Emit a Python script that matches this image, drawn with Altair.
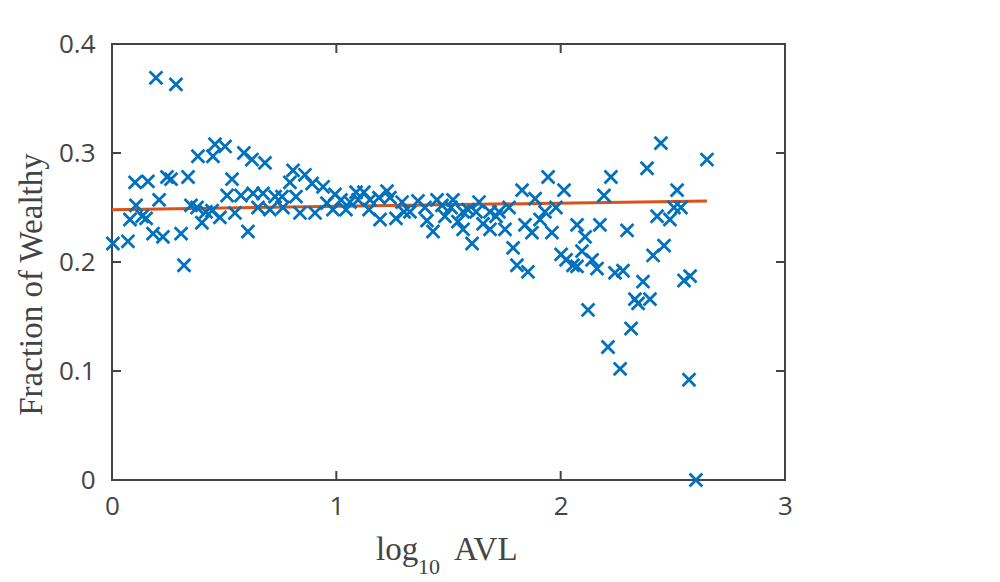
import altair as alt
import pandas as pd

# log10 of AVL for each group
log_avl = [
    0.004, 0.071, 0.196, 0.285, 0.103, 0.160, 0.107, 0.080, 0.134, 0.152,
    0.210, 0.183, 0.227, 0.245, 0.263, 0.339, 0.308, 0.321, 0.383, 0.352,
    0.379, 0.401, 0.419, 0.446, 0.459, 0.504, 0.450, 0.481, 0.535, 0.513,
    0.548, 0.575, 0.588, 0.624, 0.606, 0.629, 0.651, 0.682, 0.673, 0.704,
    0.727, 0.758, 0.762, 0.807, 0.793, 0.820, 0.860, 0.838, 0.892, 0.905,
    0.941, 0.958, 0.994, 0.985, 1.021, 1.043, 1.061, 1.088, 1.097, 1.123,
    1.150, 1.146, 1.190, 1.195, 1.226, 1.239, 1.266, 1.293, 1.302, 1.328,
    1.364, 1.395, 1.404, 1.431, 1.449, 1.471, 1.484, 1.511, 1.520, 1.542,
    1.565, 1.565, 1.605, 1.587, 1.623, 1.636, 1.654, 1.685, 1.685, 1.712,
    1.725, 1.752, 1.770, 1.788, 1.828, 1.805, 1.854, 1.841, 1.872, 1.886,
    1.908, 1.930, 1.944, 1.961, 1.979, 2.015, 2.002, 2.024, 2.055, 2.073,
    2.073, 2.109, 2.095, 2.140, 2.162, 2.175, 2.193, 2.224, 2.242, 2.278,
    2.296, 2.367, 2.331, 2.345, 2.398, 2.122, 2.314, 2.211, 2.265, 2.385,
    2.447, 2.652, 2.519, 2.505, 2.536, 2.430, 2.487, 2.461, 2.412, 2.550,
    2.577, 2.572, 2.603,
]

# fraction of wealthy members in each group
frac_wealthy = [
    0.217, 0.219, 0.369, 0.363, 0.273, 0.274, 0.252, 0.239, 0.242, 0.240,
    0.257, 0.226, 0.223, 0.278, 0.276, 0.278, 0.226, 0.197, 0.297, 0.252,
    0.250, 0.236, 0.246, 0.247, 0.308, 0.306, 0.297, 0.241, 0.276, 0.261,
    0.245, 0.261, 0.300, 0.294, 0.228, 0.263, 0.250, 0.291, 0.263, 0.248,
    0.260, 0.260, 0.250, 0.284, 0.273, 0.260, 0.280, 0.245, 0.272, 0.245,
    0.269, 0.254, 0.262, 0.248, 0.257, 0.248, 0.255, 0.264, 0.257, 0.264,
    0.257, 0.248, 0.259, 0.239, 0.265, 0.259, 0.240, 0.255, 0.246, 0.246,
    0.256, 0.250, 0.238, 0.228, 0.257, 0.252, 0.242, 0.250, 0.257, 0.237,
    0.246, 0.230, 0.217, 0.248, 0.246, 0.255, 0.235, 0.230, 0.246, 0.242,
    0.246, 0.230, 0.250, 0.213, 0.266, 0.197, 0.191, 0.234, 0.227, 0.258,
    0.239, 0.246, 0.278, 0.227, 0.250, 0.266, 0.207, 0.202, 0.197, 0.196,
    0.234, 0.223, 0.210, 0.202, 0.194, 0.234, 0.261, 0.278, 0.190, 0.192,
    0.229, 0.182, 0.166, 0.162, 0.166, 0.156, 0.139, 0.122, 0.102, 0.286,
    0.309, 0.294, 0.266, 0.250, 0.250, 0.242, 0.239, 0.215, 0.206, 0.183,
    0.187, 0.092, 0.000,
]

# least-squares fit line endpoints
fit_x = [0.0, 2.652]
fit_y = [0.248, 0.256]

x_ticks = [0, 1, 2, 3]
y_ticks = [0.0, 0.1, 0.2, 0.3, 0.4]

X_MIN, X_MAX = 0.0, 3.0
Y_MIN, Y_MAX = 0.0, 0.4
W, H = 673, 436
TICK = 9
AX_COL = "#444444"
BLUE = "#0072BD"
ORANGE = "#D95319"

points = pd.DataFrame({"x": log_avl, "y": frac_wealthy})
fit = pd.DataFrame({"x": fit_x, "y": fit_y})

# inward tick segments on all four sides of the box, in data units
dx = TICK * (X_MAX - X_MIN) / W
dy = TICK * (Y_MAX - Y_MIN) / H
seg_rows = []
for v in y_ticks:
    seg_rows.append({"x": X_MIN, "x2": X_MIN + dx, "y": v, "y2": v})
    seg_rows.append({"x": X_MAX - dx, "x2": X_MAX, "y": v, "y2": v})
for v in x_ticks:
    seg_rows.append({"x": v, "x2": v, "y": Y_MIN, "y2": Y_MIN + dy})
    seg_rows.append({"x": v, "x2": v, "y": Y_MAX - dy, "y2": Y_MAX})
ticks_df = pd.DataFrame(seg_rows)

xscale = alt.Scale(domain=[X_MIN, X_MAX], nice=False, zero=False)
yscale = alt.Scale(domain=[Y_MIN, Y_MAX], nice=False, zero=False)

x_axis = alt.Axis(
    values=x_ticks, format="d", ticks=False, tickSize=0, domain=False, grid=False,
    labelFont="Open Sans", labelFontSize=26, labelColor=AX_COL, labelPadding=13,
    labelFlush=False, title=None,
)
y_axis = alt.Axis(
    values=y_ticks, format=".1~f", ticks=False, tickSize=0, domain=False, grid=False,
    labelFont="Open Sans", labelFontSize=26, labelColor=AX_COL, labelPadding=17,
    labelFlush=False,
    title="Fraction of Wealthy", titleFont="Liberation Serif", titleFontSize=33,
    titleFontWeight="normal", titleColor=AX_COL, titleAngle=270,
    titleX=-81, titleY=240, titleAlign="center", titleBaseline="middle",
)

scatter = alt.Chart(points).mark_point(
    shape="M-1,-1L1,1M-1,1L1,-1", filled=False, color=BLUE,
    strokeWidth=2.8, size=165, opacity=1,
).encode(
    x=alt.X("x:Q", scale=xscale, axis=x_axis),
    y=alt.Y("y:Q", scale=yscale, axis=y_axis),
)

fit_line = alt.Chart(fit).mark_line(color=ORANGE, strokeWidth=3).encode(
    x=alt.X("x:Q", scale=xscale),
    y=alt.Y("y:Q", scale=yscale),
)

tick_marks = alt.Chart(ticks_df).mark_rule(color=AX_COL, strokeWidth=2).encode(
    x=alt.X("x:Q", scale=xscale),
    x2="x2:Q",
    y=alt.Y("y:Q", scale=yscale),
    y2="y2:Q",
)

# x-axis title with a subscripted base
title_df = pd.DataFrame({"t": ["log"]})
serif = dict(font="Liberation Serif", color=AX_COL, align="left", baseline="alphabetic")
t_log = alt.Chart(title_df).mark_text(text="log", fontSize=33, **serif).encode(
    x=alt.value(264), y=alt.value(516))
t_sub = alt.Chart(title_df).mark_text(text="10", fontSize=22, **serif).encode(
    x=alt.value(306), y=alt.value(530))
t_avl = alt.Chart(title_df).mark_text(text="AVL", fontSize=33, **serif).encode(
    x=alt.value(342), y=alt.value(516))

chart = alt.layer(
    tick_marks, fit_line, scatter, t_log, t_sub, t_avl,
).properties(
    width=W, height=H,
    autosize=alt.AutoSizeParams(type="none"),
    padding={"left": 112, "top": 44, "right": 1000 - 112 - W, "bottom": 582 - 44 - H},
    background="white",
).configure_view(
    stroke=AX_COL, strokeWidth=2,
)

chart.save("out.html", embed_options={"renderer": "svg", "actions": False})
